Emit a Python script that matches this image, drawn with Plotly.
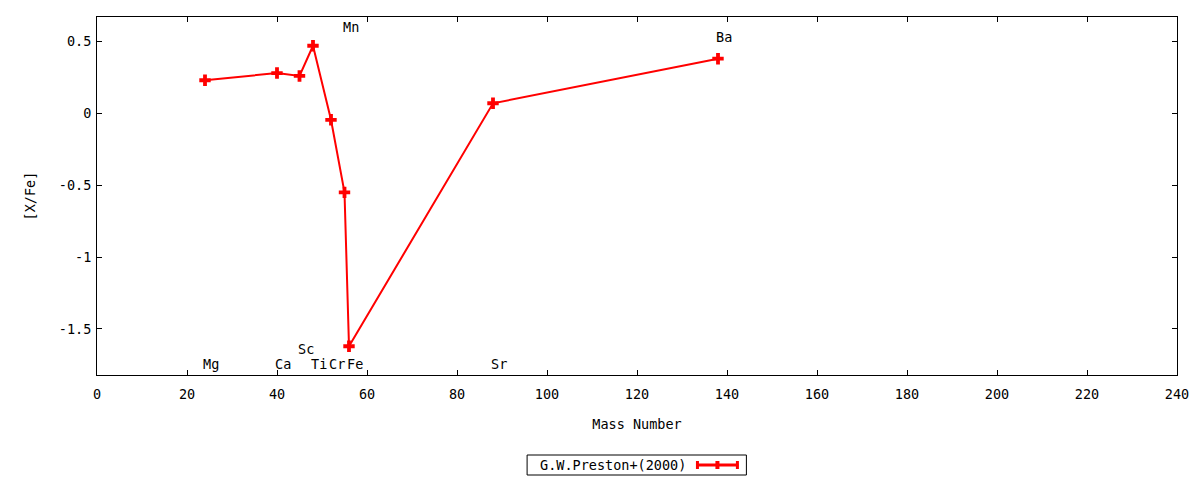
import plotly.graph_objects as go

# mass numbers and [X/Fe]
elements = ["Mg", "Ca", "Sc", "Ti", "Cr", "Mn", "Fe", "Sr", "Ba"]
mass = [24, 40, 45, 48, 52, 55, 56, 88, 138]
x_fe = [0.23, 0.28, 0.26, 0.47, -0.045, -0.55, -1.62, 0.07, 0.38]

# element labels as placed in the plot
label_x = [24, 40, 45, 48, 52, 55, 56, 88, 138]
label_y = [-1.74, -1.74, -1.64, -1.74, -1.74, 0.60, -1.74, -1.74, 0.53]

x_ticks = list(range(0, 241, 20))
y_ticks = [-1.5, -1, -0.5, 0, 0.5]
y_tick_text = ["-1.5", "-1", "-0.5", "0", "0.5"]

series_name = "G.W.Preston+(2000)"
font = "DejaVu Sans Mono"
fsize = 13.5

fig = go.Figure()
fig.add_trace(go.Scatter(
    x=mass, y=x_fe, mode="lines+markers", name=series_name,
    line=dict(color="#ff0000", width=2),
    marker=dict(symbol="cross", size=9.5, color="#ff0000", line=dict(width=0)),
    showlegend=False,
))

for name, lx, ly in zip(elements, label_x, label_y):
    fig.add_annotation(x=lx, y=ly, text=name, showarrow=False,
                       xanchor="left", yanchor="middle", xshift=-4,
                       font=dict(family=font, size=fsize, color="black"))

# legend drawn by hand (gnuplot style: text then sample)
W, H = 1081, 358
def px(v):
    return (v - 96) / W
def py(v):
    return -(v - 375) / H

fig.add_shape(type="rect", xref="paper", yref="paper",
              x0=px(526.5), x1=px(746), y0=py(455), y1=py(475),
              line=dict(color="black", width=1))
fig.add_annotation(xref="paper", yref="paper", x=px(688), y=py(465),
                   text=series_name, showarrow=False, xanchor="right", yanchor="middle",
                   font=dict(family=font, size=fsize, color="black"))
fig.add_shape(type="line", xref="paper", yref="paper",
              x0=px(696), x1=px(738), y0=py(465), y1=py(465),
              line=dict(color="#ff0000", width=3))
for cx, w in ((697, 3), (737, 3), (717, 4)):
    fig.add_shape(type="line", xref="paper", yref="paper",
                  x0=px(cx), x1=px(cx), y0=py(461), y1=py(469),
                  line=dict(color="#ff0000", width=w))

axis_common = dict(
    showline=True, linecolor="black", linewidth=1, mirror="ticks",
    ticks="inside", ticklen=5, tickcolor="black", tickwidth=1,
    showgrid=False, zeroline=False,
    tickfont=dict(family=font, size=fsize, color="black"),
)

fig.update_xaxes(range=[0, 240], tickvals=x_ticks, ticklabelstandoff=7,
                 title=dict(text="Mass Number", standoff=18,
                            font=dict(family=font, size=fsize, color="black")),
                 **axis_common)
fig.update_yaxes(range=[-1.82, 0.67], tickvals=y_ticks, ticktext=y_tick_text,
                 ticklabelstandoff=2,
                 title=dict(text="[X/Fe]", standoff=20,
                            font=dict(family=font, size=fsize, color="black")),
                 **axis_common)

# page body adds 8px, so margins are shifted accordingly
fig.update_layout(
    width=1200, height=480,
    margin=dict(l=89, r=31, t=9, b=113),
    plot_bgcolor="white", paper_bgcolor="white",
    font=dict(family=font, size=fsize, color="black"),
)

fig.write_html("out.html")
